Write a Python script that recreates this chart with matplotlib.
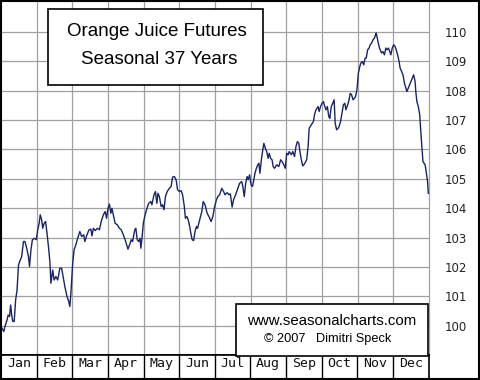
import matplotlib
matplotlib.use("Agg")
import matplotlib.pyplot as plt
from matplotlib.patches import Rectangle

# ---- data (x in months from Jan 1, value = seasonal index) ----
months = ["Jan", "Feb", "Mar", "Apr", "May", "Jun", "Jul", "Aug", "Sep", "Oct", "Nov", "Dec"]
y_ticks = [100, 101, 102, 103, 104, 105, 106, 107, 108, 109, 110]

x_pos = [0.00, 0.08, 0.11, 0.17, 0.20, 0.24, 0.27, 0.30, 0.33, 0.37, 0.41, 0.45, 0.49, 0.54, 0.58,
         0.63, 0.67, 0.71, 0.77, 0.80, 0.84, 0.88, 0.93, 0.99, 1.03, 1.07, 1.10, 1.14, 1.17, 1.21,
         1.25, 1.29, 1.33, 1.37, 1.40, 1.45, 1.49, 1.54, 1.59, 1.65, 1.70, 1.74, 1.79, 1.85, 1.90,
         1.93, 1.96, 2.01, 2.05, 2.10, 2.15, 2.21, 2.26, 2.32, 2.35, 2.41, 2.47, 2.52, 2.55, 2.59,
         2.64, 2.70, 2.76, 2.81, 2.87, 2.92, 2.96, 3.00, 3.04, 3.08, 3.11, 3.15, 3.20, 3.26, 3.32,
         3.37, 3.43, 3.48, 3.56, 3.62, 3.65, 3.69, 3.75, 3.78, 3.82, 3.86, 3.90, 3.92, 3.95, 3.99,
         4.03, 4.08, 4.14, 4.20, 4.23, 4.29, 4.33, 4.37, 4.40, 4.44, 4.49, 4.53, 4.57, 4.61, 4.66,
         4.72, 4.77, 4.81, 4.86, 4.91, 4.95, 5.00, 5.05, 5.09, 5.14, 5.17, 5.21, 5.25, 5.29, 5.33,
         5.36, 5.40, 5.44, 5.48, 5.51, 5.57, 5.63, 5.67, 5.72, 5.78, 5.83, 5.89, 5.94, 5.98, 6.04,
         6.08, 6.13, 6.19, 6.24, 6.28, 6.34, 6.39, 6.43, 6.48, 6.52, 6.58, 6.64, 6.69, 6.75, 6.78,
         6.82, 6.86, 6.90, 6.93, 6.97, 7.01, 7.05, 7.08, 7.12, 7.16, 7.20, 7.23, 7.26, 7.30, 7.34,
         7.37, 7.41, 7.45, 7.49, 7.52, 7.56, 7.60, 7.63, 7.67, 7.73, 7.79, 7.84, 7.88, 7.93, 7.97,
         8.01, 8.05, 8.08, 8.14, 8.18, 8.23, 8.27, 8.31, 8.35, 8.38, 8.42, 8.46, 8.51, 8.57, 8.61,
         8.64, 8.70, 8.76, 8.79, 8.83, 8.89, 8.92, 8.96, 9.00, 9.04, 9.08, 9.11, 9.15, 9.19, 9.22,
         9.26, 9.30, 9.34, 9.37, 9.41, 9.45, 9.48, 9.52, 9.56, 9.60, 9.64, 9.67, 9.72, 9.76, 9.79,
         9.83, 9.87, 9.91, 9.94, 9.98, 10.02, 10.06, 10.09, 10.13, 10.17, 10.21, 10.24, 10.28, 10.32, 10.35,
         10.39, 10.43, 10.47, 10.50, 10.52, 10.56, 10.60, 10.63, 10.67, 10.71, 10.75, 10.79, 10.82, 10.86, 10.90,
         10.93, 10.97, 11.01, 11.05, 11.08, 11.12, 11.16, 11.19, 11.23, 11.27, 11.31, 11.35, 11.38, 11.42, 11.46,
         11.49, 11.53, 11.57, 11.61, 11.63, 11.66, 11.70, 11.74, 11.77, 11.81, 11.83, 11.89, 11.92, 11.96, 11.98]

values = [99.98, 99.81, 99.98, 100.20, 100.37, 100.32, 100.71, 100.37, 100.15, 100.15, 100.88, 101.22, 102.07, 102.24, 102.36,
          102.87, 102.87, 102.70, 102.36, 102.02, 102.59, 102.93, 102.98, 102.93, 103.27, 103.49, 103.78, 103.61, 103.32, 103.49,
          103.55, 103.15, 102.70, 102.19, 101.45, 101.90, 101.56, 101.68, 101.56, 101.96, 101.96, 101.68, 101.34, 101.00, 100.83,
          100.66, 101.11, 102.13, 102.59, 102.76, 102.98, 103.21, 103.04, 103.10, 102.87, 103.10, 103.27, 103.29, 103.06, 103.32,
          103.24, 103.32, 103.27, 103.55, 103.78, 103.89, 103.66, 104.00, 104.14, 103.83, 104.00, 103.78, 103.49, 103.44, 103.32,
          103.27, 103.10, 102.93, 102.61, 102.81, 102.93, 102.87, 103.27, 103.32, 102.93, 102.87, 102.98, 102.64, 102.93, 103.49,
          103.72, 103.95, 104.17, 104.23, 104.12, 104.46, 104.57, 104.17, 104.51, 104.40, 104.06, 104.12, 103.95, 104.40, 104.57,
          104.68, 104.74, 105.06, 105.08, 104.97, 104.63, 104.57, 104.60, 104.46, 104.06, 103.66, 103.72, 103.61, 103.38, 103.10,
          102.93, 102.90, 103.21, 103.38, 103.32, 103.61, 103.89, 104.23, 104.12, 103.83, 103.72, 103.55, 103.72, 104.00, 104.29,
          104.40, 104.46, 104.68, 104.57, 104.46, 104.53, 104.46, 104.49, 104.04, 104.29, 104.46, 104.68, 104.85, 104.91, 104.74,
          104.40, 104.85, 105.08, 104.97, 105.14, 104.80, 104.74, 104.91, 105.19, 105.36, 105.48, 105.53, 105.19, 105.65, 105.99,
          106.21, 106.04, 105.93, 105.70, 105.87, 105.70, 105.65, 105.42, 105.36, 105.48, 105.42, 105.65, 105.59, 105.48, 105.36,
          105.87, 105.82, 105.93, 105.82, 105.93, 105.76, 106.10, 106.27, 106.21, 105.93, 105.65, 105.44, 105.51, 105.65, 106.10,
          106.72, 106.84, 106.95, 107.18, 107.35, 107.46, 107.29, 107.46, 107.57, 107.63, 107.46, 107.35, 107.46, 107.12, 107.06,
          107.46, 107.57, 107.69, 106.89, 106.67, 106.72, 106.78, 106.95, 107.23, 107.52, 107.57, 107.35, 107.52, 107.69, 107.91,
          107.86, 107.69, 107.74, 107.80, 108.03, 108.60, 108.82, 108.94, 108.99, 108.88, 109.11, 109.11, 109.39, 109.45, 109.56,
          109.62, 109.73, 109.79, 109.90, 109.96, 109.73, 109.50, 109.39, 109.28, 109.33, 109.22, 109.45, 109.39, 109.45, 109.33,
          109.22, 109.45, 109.56, 109.50, 109.39, 109.22, 109.00, 108.77, 108.66, 108.54, 108.26, 108.09, 107.97, 108.09, 108.20,
          108.31, 108.43, 108.54, 108.31, 107.97, 107.63, 107.46, 107.18, 106.61, 105.93, 105.59, 105.48, 105.25, 104.91, 104.51]

title_lines = ["Orange Juice Futures", "Seasonal 37 Years"]
credit_lines = ["www.seasonalcharts.com", "\u00a9 2007   Dimitri Speck"]

W, H = 480, 380
fig = plt.figure(figsize=(W / 100, H / 100), dpi=100)
fig.patch.set_facecolor("white")

def fx(px):
    return px / W

def fy(py):
    return 1 - py / H

grid_col = "#a0a0a0"
line_col = "#1b2462"

# main plot area: x 1..429 px, y 1..355 px
ax = fig.add_axes([fx(1), fy(355), fx(428), (355 - 1) / H])
ax.plot(x_pos, values, color=line_col, lw=1.0, zorder=3)
ax.set_xlim(0, 12)
ax.set_ylim(99.01, 111.05)
ax.set_xticks(range(1, 12))
ax.set_xticklabels([])
ax.tick_params(axis="x", length=0)
ax.set_yticks(y_ticks)
ax.yaxis.tick_right()
ax.tick_params(axis="y", length=0, pad=11, labelsize=8.5, labelcolor="#222222")
for lab in ax.get_yticklabels():
    lab.set_family("DejaVu Sans")
ax.grid(True, color=grid_col, lw=0.9)
ax.set_axisbelow(True)
for s in ["left", "top", "bottom"]:
    ax.spines[s].set_color("black")
    ax.spines[s].set_linewidth(1.2)
ax.spines["right"].set_color(grid_col)
ax.spines["right"].set_linewidth(0.9)

# month row
axm = fig.add_axes([fx(1), fy(379), fx(427.5), (379 - 355) / H])
axm.set_xlim(0, 12)
axm.set_ylim(0, 1)
axm.set_yticks([])
axm.set_xticks([i + 0.5 for i in range(12)])
axm.set_xticklabels(months, fontsize=9.5, family="DejaVu Sans Mono", color="#111111")
axm.tick_params(axis="x", length=0, direction="in", pad=-16)
for i in range(1, 12):
    axm.axvline(i, color="black", lw=1.0)
for s in axm.spines.values():
    s.set_color("black")
    s.set_linewidth(1.2)

# overlay for boxes and outer border
ov = fig.add_axes([0, 0, 1, 1])
ov.set_xlim(0, W)
ov.set_ylim(H, 0)
ov.axis("off")
ov.patch.set_alpha(0)
ov.add_patch(Rectangle((48, 9), 215, 76, facecolor="white", edgecolor="black", lw=1.2, zorder=5))
ov.text(157, 32, title_lines[0], ha="center", va="center", fontsize=13.5,
        family="Liberation Sans", color="black", zorder=6)
ov.text(159, 60, title_lines[1], ha="center", va="center", fontsize=13.5,
        family="Liberation Sans", color="black", zorder=6)
ov.add_patch(Rectangle((236, 304), 192, 52, facecolor="white", edgecolor="black", lw=1.2, zorder=5))
ov.text(331.5, 321, credit_lines[0], ha="center", va="center", fontsize=10.8,
        family="Liberation Sans", color="black", zorder=6)
ov.text(328, 339, credit_lines[1], ha="center", va="center", fontsize=9.2,
        family="Liberation Sans", color="black", zorder=6)
ov.add_patch(Rectangle((0.5, 0.5), W - 1.5, H - 1.5, facecolor="none", edgecolor="black", lw=1.5, zorder=7))

fig.savefig("out.png", dpi=100)
